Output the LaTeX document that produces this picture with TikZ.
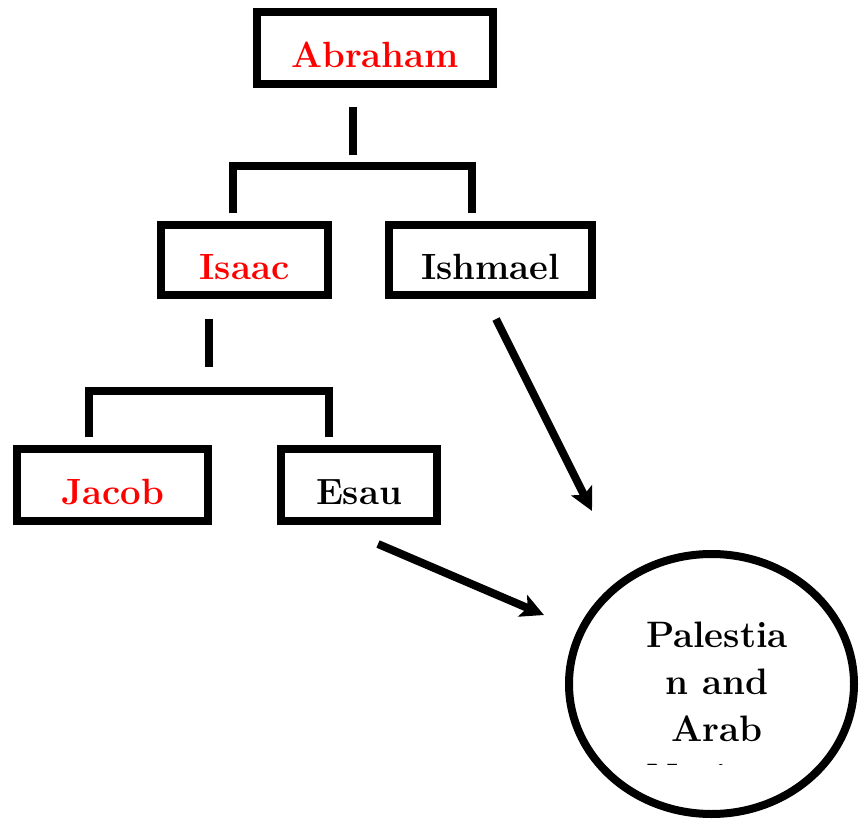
\documentclass[tikz,border=0pt]{standalone}
\usetikzlibrary{shapes.geometric,arrows.meta}
\begin{document}
\begin{tikzpicture}[x=1pt,y=-1pt,line width=8pt,
  person/.style={draw, rectangle, line join=miter, inner sep=0pt, minimum height=72pt,
    text height=38pt, text depth=0pt, font=\fontsize{36.5}{44}\selectfont\bfseries},
  chosen/.style={person, text=red},
  bracket/.style={line join=miter, line cap=butt},
  toarrow/.style={-{Stealth[length=23pt,width=23pt,inset=5pt]}}]
\useasboundingbox (0,0) rectangle (860,819);
\fill[white] (0,0) rectangle (860,819);
% boxes
\node[chosen, minimum width=236pt] (abraham) at (375,48) {Abraham};
\node[chosen, minimum width=167pt, minimum height=70pt] (isaac) at (244.5,260) {Isaac};
\node[person, minimum width=203pt, minimum height=70pt] (ishmael) at (490.5,260) {Ishmael};
\node[chosen, minimum width=191pt] (jacob) at (112.5,485) {Jacob};
\node[person, minimum width=156pt] (esau) at (359,485) {Esau};
\node[ellipse, draw, minimum width=285pt, minimum height=260pt, inner sep=0pt] (nations) at (711.5,684) {};
% free ends of connectors
\coordinate (a1) at (352.5,107);
\coordinate (a2) at (352.5,155);
\coordinate (b1) at (233,213);
\coordinate (b2) at (233,166);
\coordinate (b3) at (472,166);
\coordinate (b4) at (472,213);
\coordinate (c1) at (209,319);
\coordinate (c2) at (209,367);
\coordinate (d1) at (89,437);
\coordinate (d2) at (89,390.5);
\coordinate (d3) at (329,390.5);
\coordinate (d4) at (329,437);
\coordinate (e1) at (496,319);
\coordinate (e2) at (592,511);
\coordinate (f1) at (378,544);
\coordinate (f2) at (544,615);
% tree connectors
\draw[bracket] (a1) -- (a2);
\draw[bracket] (b1) -- (b2) -- (b3) -- (b4);
\draw[bracket] (c1) -- (c2);
\draw[bracket] (d1) -- (d2) -- (d3) -- (d4);
% arrows to the nations
\draw[toarrow] (e1) -- (e2);
\draw[toarrow] (f1) -- (f2);
% clipped label of the ellipse
\begin{scope}
\clip (560,540) rectangle (860,764);
\node[align=center, inner sep=0pt, font=\fontsize{36.8}{47.3}\selectfont\bfseries] (nationstext) at (717,705.5) {Palestia\\n and\\Arab\\Nations};
\end{scope}
\end{tikzpicture}
\end{document}
